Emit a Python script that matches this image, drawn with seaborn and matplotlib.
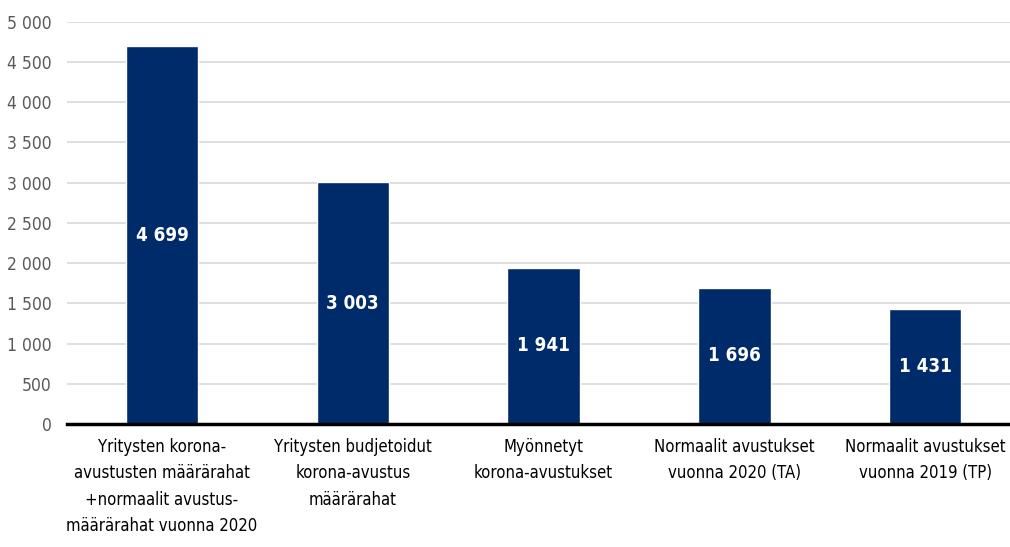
import seaborn as sns
import matplotlib.pyplot as plt
import pandas as pd
from matplotlib.ticker import FuncFormatter

categories = [
    "Yritysten korona-\navustusten määrärahat\n+normaalit avustus-\nmäärärahat vuonna 2020",
    "Yritysten budjetoidut\nkorona-avustus\nmäärärahat",
    "Myönnetyt\nkorona-avustukset",
    "Normaalit avustukset\nvuonna 2020 (TA)",
    "Normaalit avustukset\nvuonna 2019 (TP)",
]
values = [4699, 3003, 1941, 1696, 1431]
yticks = list(range(0, 5001, 500))

sns.set_style("white")
plt.rcParams['font.family'] = ['DejaVu Sans']
plt.rcParams['font.stretch'] = 'condensed'


def fmt(v, pos=None):
    return f"{int(v):,}".replace(",", " ")


df = pd.DataFrame({"cat": categories, "val": values})

fig = plt.figure(figsize=(10.1, 5.47), dpi=100)
ax = fig.add_axes([0.066, 0.225, 0.934, 0.735])

sns.barplot(data=df, x="cat", y="val", color="#002B6B", width=0.38,
            saturation=1, ax=ax, zorder=3)

ax.set_ylim(0, 5000)
ax.set_xlim(-0.5, 4.445)
ax.set_yticks(yticks)
ax.yaxis.set_major_formatter(FuncFormatter(fmt))
ax.grid(axis="y", color="#D9D9D9", linewidth=1.2, zorder=0)
ax.set_axisbelow(True)

for s in ["top", "right", "left"]:
    ax.spines[s].set_visible(False)
ax.spines["bottom"].set_color("black")
ax.spines["bottom"].set_linewidth(2.5)
ax.spines["bottom"].set_zorder(4)

ax.tick_params(axis="y", length=0, labelsize=12.5, labelcolor="#595959", pad=11)
ax.tick_params(axis="x", length=0, labelsize=12, labelcolor="black", pad=10)
for lbl in ax.get_xticklabels():
    lbl.set_linespacing(1.6)
ax.set_xlabel("")
ax.set_ylabel("")

for i, v in enumerate(values):
    ax.text(i, v / 2, fmt(v), ha="center", va="center", color="white",
            fontsize=13.5, fontweight="bold", zorder=5)

fig.savefig("out.png", dpi=100)
